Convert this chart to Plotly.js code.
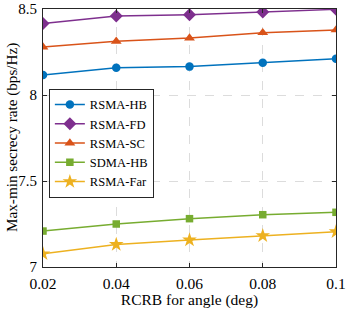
<!DOCTYPE html>
<html><head><meta charset="utf-8">
<script src="https://cdn.plot.ly/plotly-3.0.1.min.js"></script>
<style>html,body{margin:0;padding:0;background:#fff}#chart{width:348px;height:309px}</style>
</head><body><div id="chart"></div>
<script>
const xVals = [0.02, 0.04, 0.06, 0.08, 0.1];
const rsmaHB = [8.116, 8.159, 8.165, 8.188, 8.211];
const rsmaFD = [8.415, 8.459, 8.467, 8.483, 8.498];
const rsmaSC = [8.279, 8.312, 8.331, 8.362, 8.378];
const sdmaHB = [7.209, 7.250, 7.281, 7.304, 7.318];
const rsmaFar = [7.077, 7.131, 7.157, 7.182, 7.205];
const names = ['RSMA-HB', 'RSMA-FD', 'RSMA-SC', 'SDMA-HB', 'RSMA-Far'];
const xTickLabels = ['0.02', '0.04', '0.06', '0.08', '0.1'];
const yTickVals = [7, 7.5, 8, 8.5];
const yTickLabels = ['7', '7.5', '8', '8.5'];
const colors = ['#0072BD', '#7E2F8E', '#D95319', '#77AC30', '#EDB120'];
const symbols = ['circle', 'diamond', 'triangle-up', 'square', 'star'];
const sizes = [8.5, 10, 9.5, 7.5, 11];
const series = [rsmaHB, rsmaFD, rsmaSC, sdmaHB, rsmaFar];

const SERIF = 'Liberation Serif';
const traces = series.map((y, i) => ({
  x: xVals, y: y, name: names[i], type: 'scatter', mode: 'lines+markers',
  line: {color: colors[i], width: 1.5},
  marker: {color: colors[i], symbol: symbols[i], size: sizes[i], line: {width: 0}}
}));

const layout = {
  width: 348, height: 309,
  margin: {l: 43, r: 12, t: 9, b: 42},
  paper_bgcolor: '#fff', plot_bgcolor: '#fff',
  font: {family: SERIF, size: 15, color: '#000'},
  showlegend: true,
  legend: {x: 0.02, y: 0.69, xanchor: 'left', yanchor: 'top',
    bgcolor: '#fff', bordercolor: '#262626', borderwidth: 1,
    font: {family: SERIF, size: 12.5, color: '#000'}, tracegroupgap: 0, itemwidth: 30},
  xaxis: {
    range: [0.02, 0.1], tickvals: xVals, ticktext: xTickLabels,
    showline: true, linecolor: '#262626', linewidth: 1, mirror: 'ticks',
    ticks: 'inside', ticklen: 4, tickcolor: '#262626', ticklabelstandoff: 2,
    showgrid: true, gridcolor: '#dcdcdc', griddash: 'dash', gridwidth: 1, zeroline: false,
    tickfont: {family: SERIF, size: 15.5, color: '#000'}, ticklabeloverflow: 'allow',
    title: {text: 'RCRB for angle (deg)', font: {family: SERIF, size: 15.5, color: '#000'}, standoff: 2}
  },
  yaxis: {
    range: [7, 8.5], tickvals: yTickVals, ticktext: yTickLabels,
    showline: true, linecolor: '#262626', linewidth: 1, mirror: 'ticks',
    ticks: 'inside', ticklen: 4, tickcolor: '#262626', ticklabelstandoff: 2,
    showgrid: true, gridcolor: '#dcdcdc', griddash: 'dash', gridwidth: 1, zeroline: false,
    tickfont: {family: SERIF, size: 15, color: '#000'}, ticklabeloverflow: 'allow'
  },
  annotations: [{
    text: 'Max-min secrecy rate (bps/Hz)', textangle: -90,
    xref: 'paper', yref: 'paper', x: 0, y: 0.5, xshift: -31, xanchor: 'center', yanchor: 'middle',
    showarrow: false, font: {family: SERIF, size: 15.2, color: '#000'}
  }]
};
Plotly.newPlot('chart', traces, layout, {displayModeBar: false, staticPlot: true});
</script></body></html>
